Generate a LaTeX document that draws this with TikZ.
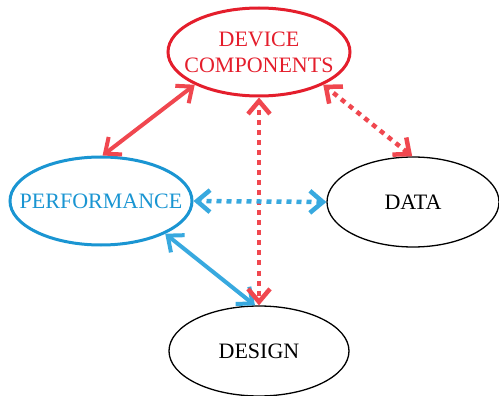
\documentclass[tikz,border=0pt]{standalone}
\usepackage{fontspec}
\setmainfont{Liberation Serif}
\usetikzlibrary{shapes.geometric,arrows.meta}
\definecolor{devred}{HTML}{E41E2C}
\definecolor{arrred}{HTML}{F0474F}
\definecolor{perfblue}{HTML}{1A95D2}
\definecolor{arrblue}{HTML}{38A9DF}
\tikzset{
  bubble/.style={ellipse, draw, inner sep=0pt, minimum width=182pt, minimum height=88pt},
  caption/.style={font=\fontsize{22}{26}\selectfont, align=center, inner sep=0pt},
  twoheads/.style={{Straight Barb[length=13pt,width=22pt]}-{Straight Barb[length=13pt,width=22pt]}},
  link/.style={line width=4pt, twoheads},
  % dotted shaft only; the heads are added by dotheads
  dotshaft/.style={line width=4.5pt, dash pattern=on 5pt off 5pt, shorten <=3pt, shorten >=3pt},
  dotheads/.style={tips=true, line width=4.5pt, twoheads}
}
\begin{document}
\begin{tikzpicture}[x=1pt,y=-1pt]
\useasboundingbox (0,0) rectangle (499,396);
% the four ellipses
\node[bubble, draw=devred, line width=3pt] (dev) at (259,52) {};
\node[bubble, draw=perfblue, line width=3pt] (perf) at (101,201) {};
\node[bubble, line width=1.3pt, minimum width=172pt, minimum height=90pt] (data) at (413,202) {};
\node[bubble, line width=1.3pt, minimum width=180pt, minimum height=90pt] (design) at (259,351) {};
% their captions
\node[caption, text=devred] (devtxt) at (dev.center) {DEVICE\\COMPONENTS};
\node[caption, text=perfblue] (perftxt) at (perf.center) {PERFORMANCE};
\node[caption] (datatxt) at (data.center) {DATA};
\node[caption] (designtxt) at (design.center) {DESIGN};

% solid links
\draw[link, arrred] (perf.88) -- (dev.207);
\draw[link, arrblue] (perf.333) -- (design.95);

% dotted links
\draw[dotshaft, arrred] (dev.333) -- (data.91);
\path[dotheads, color=arrred] (dev.333) -- (data.91);
\draw[dotshaft, arrred] (dev.south) -- (design.north);
\path[dotheads, color=arrred] (dev.south) -- (design.north);
\draw[dotshaft, arrblue] (perf.east) -- (data.west);
\path[dotheads, color=arrblue] (perf.east) -- (data.west);
\end{tikzpicture}
\end{document}
